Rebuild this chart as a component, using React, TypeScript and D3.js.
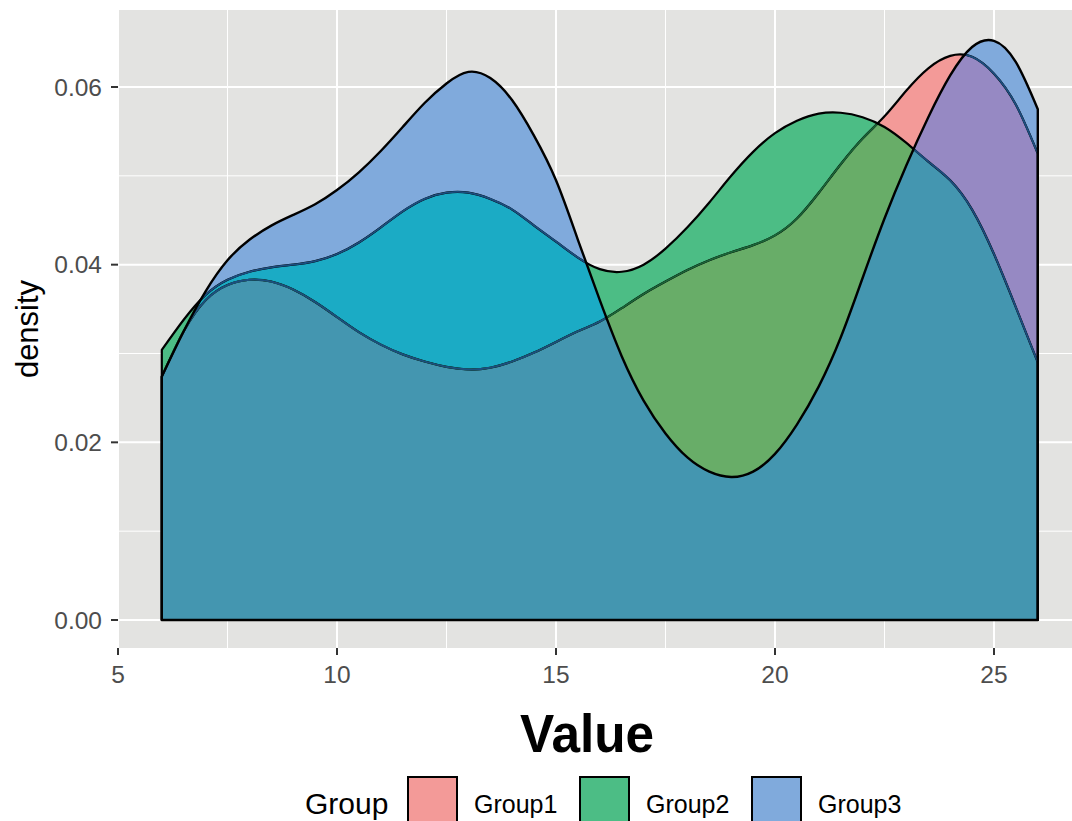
import React from 'react'
import * as d3 from 'd3'

// values, x grid shared by all three groups
const groups = ['Group1', 'Group2', 'Group3']
const xGrid = [6, 6.5, 7, 7.5, 8, 8.5, 9, 9.5, 10, 10.5, 11, 11.5, 12, 12.5, 13, 13.5, 14, 14.5, 15, 15.5, 16,
  16.5, 17, 17.5, 18, 18.5, 19, 19.5, 20, 20.5, 21, 21.5, 22, 22.5, 23, 23.5, 24, 24.5, 25, 25.5, 26]
const group1 = [0.0274, 0.0325, 0.0360, 0.0377, 0.0383, 0.0381, 0.0372, 0.0358, 0.0341, 0.0324, 0.0310, 0.0299,
  0.0291, 0.0285, 0.0282, 0.0284, 0.0291, 0.0301, 0.0313, 0.0325, 0.0336, 0.0351, 0.0367, 0.0381, 0.0394, 0.0405,
  0.0414, 0.0422, 0.0433, 0.0452, 0.0481, 0.0513, 0.0542, 0.0567, 0.0596, 0.0621, 0.0635, 0.0634, 0.0615, 0.0580, 0.0525]
const group2 = [0.0304, 0.0338, 0.0366, 0.0383, 0.0392, 0.0397, 0.0400, 0.0404, 0.0412, 0.0425, 0.0442, 0.0460,
  0.0474, 0.0481, 0.0481, 0.0474, 0.0462, 0.0444, 0.0426, 0.0408, 0.0395, 0.0392, 0.0400, 0.0418, 0.0442, 0.0470,
  0.0500, 0.0527, 0.0548, 0.0562, 0.0570, 0.0571, 0.0566, 0.0555, 0.0537, 0.0516, 0.0495, 0.0462, 0.0412, 0.0352, 0.0290]
const group3 = [0.0274, 0.0325, 0.0370, 0.0405, 0.0428, 0.0444, 0.0456, 0.0468, 0.0484, 0.0504, 0.0528, 0.0555,
  0.0582, 0.0604, 0.0617, 0.0610, 0.0585, 0.0545, 0.0495, 0.0428, 0.0360, 0.0297, 0.0247, 0.0210, 0.0183, 0.0167,
  0.0161, 0.0167, 0.0187, 0.0220, 0.0263, 0.0318, 0.0385, 0.0452, 0.0512, 0.0566, 0.0613, 0.0645, 0.0652, 0.0628, 0.0575]

const xTicks = [5, 10, 15, 20, 25]
const xMinor = [7.5, 12.5, 17.5, 22.5]
const yTicks = [0, 0.02, 0.04, 0.06]
const yMinor = [0.01, 0.03, 0.05]

// colours of each overlap (P = Group1, G = Group2, B = Group3)
const fillP = '#F39A98'
const fillG = '#4CBD85'
const fillB = '#80AADC'
const fillPG = '#68AD68'
const fillPB = '#9689C3'
const fillGB = '#1BABC5'
const fillPGB = '#4496B0'
const lineUnderG = '#1A6638'
const lineUnderB = '#1C4E80'

const W = 1072
const H = 821

const x = d3.scaleLinear().domain([5, 25]).range([118, 994])
const y = d3.scaleLinear().domain([0, 0.06]).range([620, 87])
const panel = { left: x(5), right: x(27), top: 10, bottom: 648 }

const area = d3.area<[number, number]>()
  .x(d => x(d[0]))
  .y0(y(0))
  .y1(d => y(d[1]))
  .curve(d3.curveNatural)

const paths = [group1, group2, group3].map(vals => {
  const d = area(xGrid.map((v, i) => [v, vals[i]] as [number, number])) as string
  return d + 'Z'
})

const font = 'Liberation Sans, Arial, Helvetica, sans-serif'

export default function App() {
  const [pP, pG, pB] = paths
  return (
    <svg width={W} height={H} style={{ position: 'absolute', left: 0, top: 0, background: '#fff' }}
      fontFamily={font}>
      <defs>
        <clipPath id="clipG"><path d={pG} /></clipPath>
        <clipPath id="clipB"><path d={pB} /></clipPath>
      </defs>
      <rect x={panel.left} y={panel.top} width={panel.right - panel.left} height={panel.bottom - panel.top}
        fill="#E3E3E1" />
      {xMinor.map(t => (
        <line key={'xm' + t} x1={x(t)} x2={x(t)} y1={panel.top} y2={panel.bottom} stroke="#fff" strokeWidth={1} />
      ))}
      {yMinor.map(t => (
        <line key={'ym' + t} x1={panel.left} x2={panel.right} y1={y(t)} y2={y(t)} stroke="#fff" strokeWidth={1} />
      ))}
      {xTicks.map(t => (
        <line key={'xg' + t} x1={x(t)} x2={x(t)} y1={panel.top} y2={panel.bottom} stroke="#fff" strokeWidth={2} />
      ))}
      {yTicks.map(t => (
        <line key={'yg' + t} x1={panel.left} x2={panel.right} y1={y(t)} y2={y(t)} stroke="#fff" strokeWidth={2} />
      ))}

      {/* single regions */}
      <path d={pP} fill={fillP} />
      <path d={pG} fill={fillG} />
      <path d={pB} fill={fillB} />
      {/* pairs */}
      <g clipPath="url(#clipG)"><path d={pP} fill={fillPG} /></g>
      <g clipPath="url(#clipB)"><path d={pP} fill={fillPB} /></g>
      <g clipPath="url(#clipB)"><path d={pG} fill={fillGB} /></g>
      {/* all three */}
      <g clipPath="url(#clipB)"><g clipPath="url(#clipG)"><path d={pP} fill={fillPGB} /></g></g>

      {/* outlines, tinted where a later group covers them */}
      <path d={pP} fill="none" stroke="#000" strokeWidth={2.2} strokeLinejoin="round" />
      <g clipPath="url(#clipG)"><path d={pP} fill="none" stroke={lineUnderG} strokeWidth={1.8} /></g>
      <g clipPath="url(#clipB)"><path d={pP} fill="none" stroke={lineUnderB} strokeWidth={1.8} /></g>
      <path d={pG} fill="none" stroke="#000" strokeWidth={2.2} strokeLinejoin="round" />
      <g clipPath="url(#clipB)"><path d={pG} fill="none" stroke={lineUnderB} strokeWidth={1.8} /></g>
      <path d={pB} fill="none" stroke="#000" strokeWidth={2.4} strokeLinejoin="round" />

      {/* axes */}
      {yTicks.map(t => (
        <g key={'yt' + t}>
          <line x1={panel.left - 7} x2={panel.left} y1={y(t)} y2={y(t)} stroke="#333" strokeWidth={2} />
          <text x={panel.left - 16} y={y(t)} dy="0.36em" textAnchor="end" fontSize={24.5} fill="#4D4D4D">
            {d3.format('.2f')(t)}
          </text>
        </g>
      ))}
      {xTicks.map(t => (
        <g key={'xt' + t}>
          <line x1={x(t)} x2={x(t)} y1={panel.bottom} y2={panel.bottom + 7} stroke="#333" strokeWidth={2} />
          <text x={x(t)} y={683} textAnchor="middle" fontSize={24.5} fill="#4D4D4D">{t}</text>
        </g>
      ))}
      <text transform="translate(38,329) rotate(-90)" textAnchor="middle" fontSize={31} fill="#000">density</text>
      <text x={587} y={752} textAnchor="middle" fontSize={54} fontWeight="bold" fill="#000"
        textLength={134} lengthAdjust="spacingAndGlyphs">Value</text>

      {/* legend */}
      <text x={305} y={814} fontSize={30} fill="#000">Group</text>
      {groups.map((g, i) => {
        const kx = 408 + i * 172
        const fill = [fillP, fillG, fillB][i]
        return (
          <g key={g}>
            <rect x={kx} y={777} width={49} height={49} fill={fill} stroke="#000" strokeWidth={2} />
            <text x={kx + 66} y={813} fontSize={25} fill="#000">{g}</text>
          </g>
        )
      })}
    </svg>
  )
}
